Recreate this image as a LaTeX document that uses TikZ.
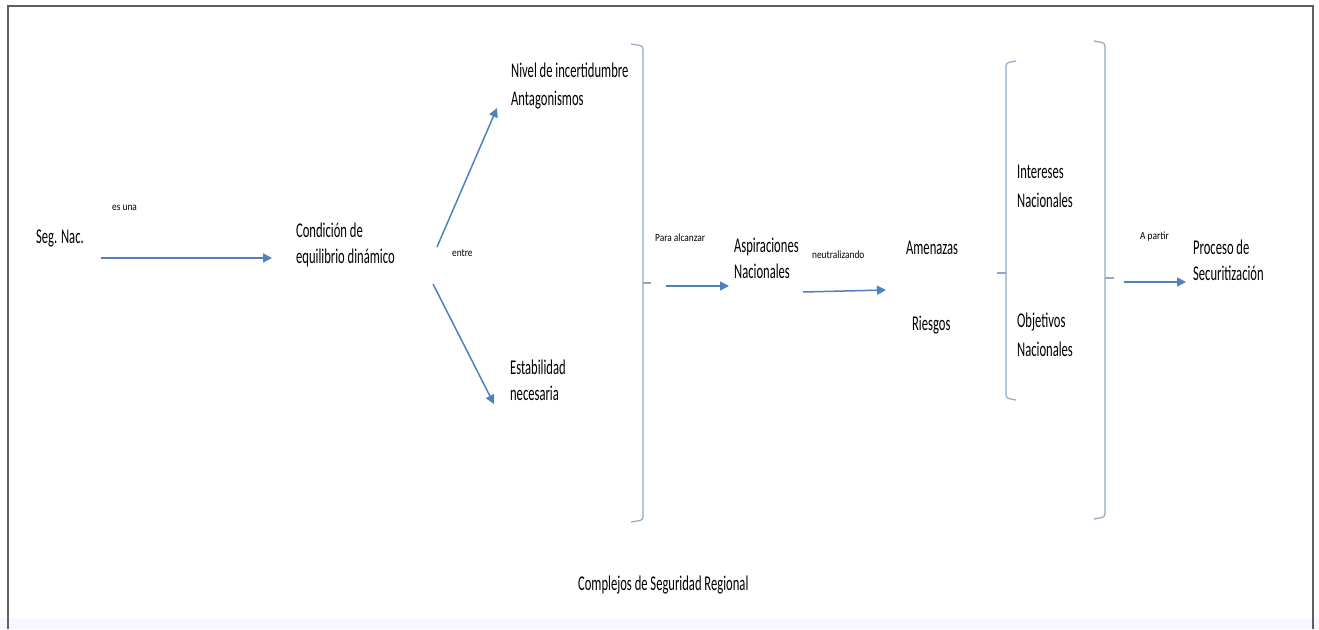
\documentclass[tikz,border=0pt]{standalone}
\usepackage{fontspec}
\setmainfont{Carlito}
\usetikzlibrary{arrows.meta}
\definecolor{arrowblue}{HTML}{4F81BD}
\definecolor{bracegray}{HTML}{8FA8C6}
\definecolor{framegray}{HTML}{5A6068}
\tikzset{
  lbl/.style={anchor=west, inner sep=0pt, font=\fontsize{21}{26}\selectfont, align=left, xscale=0.6},
  small/.style={anchor=west, inner sep=0pt, font=\fontsize{11}{12}\selectfont, xscale=0.85},
  conn/.style={draw=arrowblue, line width=1.5pt, -{Triangle[width=9pt,length=9pt]}},
  bracket/.style={draw=bracegray, line width=1.2pt, rounded corners=3pt},
}
\begin{document}
\begin{tikzpicture}[x=1pt,y=-1pt]
\useasboundingbox (0,0) rectangle (1319,629);
\fill[white] (0,0) rectangle (1319,629);
\fill[blue!3] (0,618) rectangle (1319,629);
\draw[framegray, line width=1.6pt] (8,629) -- (8,6) -- (1313,6) -- (1313,629);

% nodes
\node[lbl] (seg) at (36,238) {Seg. Nac.};
\node[small] (esuna) at (112,208) {es una};
\node[lbl] (cond) at (296,245) {Condición de\\equilibrio dinámico};
\node[small] (entre) at (452,253) {entre};
\node[lbl] (nivel) at (511,86) {Nivel de incertidumbre\\[2pt]Antagonismos};
\node[lbl] (estab) at (510,380) {Estabilidad\\necesaria};
\node[small] (para) at (655,238) {Para alcanzar};
\node[lbl] (asp) at (734,258) {Aspiraciones\\Nacionales};
\node[small] (neut) at (812,255) {neutralizando};
\node[lbl] (amen) at (906,248) {Amenazas};
\node[lbl] (ries) at (912,325) {Riesgos};
\node[lbl] (inter) at (1017,186) {Intereses\\[3pt]Nacionales};
\node[lbl] (obj) at (1017,335) {Objetivos\\[3pt]Nacionales};
\node[small] (apartir) at (1140,237) {A partir};
\node[lbl] (proc) at (1193,260) {Proceso de\\Securitización};
\node[lbl] (compl) at (578,585) {Complejos de Seguridad Regional};

% connector end points
\coordinate (a1s) at (101,258);
\coordinate (a1e) at (272,258);
\coordinate (a2s) at (437,247);
\coordinate (a2e) at (497,108);
\coordinate (a3s) at (433,284);
\coordinate (a3e) at (494,404);
\coordinate (a4s) at (666,286);
\coordinate (a4e) at (729,286);
\coordinate (a5s) at (803,292);
\coordinate (a5e) at (886,290);
\coordinate (a6s) at (1124,282);
\coordinate (a6e) at (1186,282);

\draw[conn] (a1s) -- (a1e);
\draw[conn] (a2s) -- (a2e);
\draw[conn] (a3s) -- (a3e);
\draw[conn] (a4s) -- (a4e);
\draw[conn] (a5s) -- (a5e);
\draw[conn] (a6s) -- (a6e);

% brackets
\coordinate (b1t) at (643,46);
\coordinate (b1m) at (643,283);
\coordinate (b1b) at (643,520);
\draw[bracket] (631,44) -- (b1t) -- (b1b) -- (631,522);
\draw[bracket, rounded corners=0pt] (b1m) -- (651,283);

\coordinate (b2t) at (1006,63);
\coordinate (b2m) at (1006,273);
\coordinate (b2b) at (1006,398);
\draw[bracket] (1016,61) -- (b2t) -- (b2b) -- (1016,400);
\draw[bracket, rounded corners=0pt] (b2m) -- (997,273);

\coordinate (b3t) at (1105,43);
\coordinate (b3m) at (1105,278);
\coordinate (b3b) at (1105,517);
\draw[bracket] (1094,41) -- (b3t) -- (b3b) -- (1094,519);
\draw[bracket, rounded corners=0pt] (b3m) -- (1114,278);
\end{tikzpicture}
\end{document}
